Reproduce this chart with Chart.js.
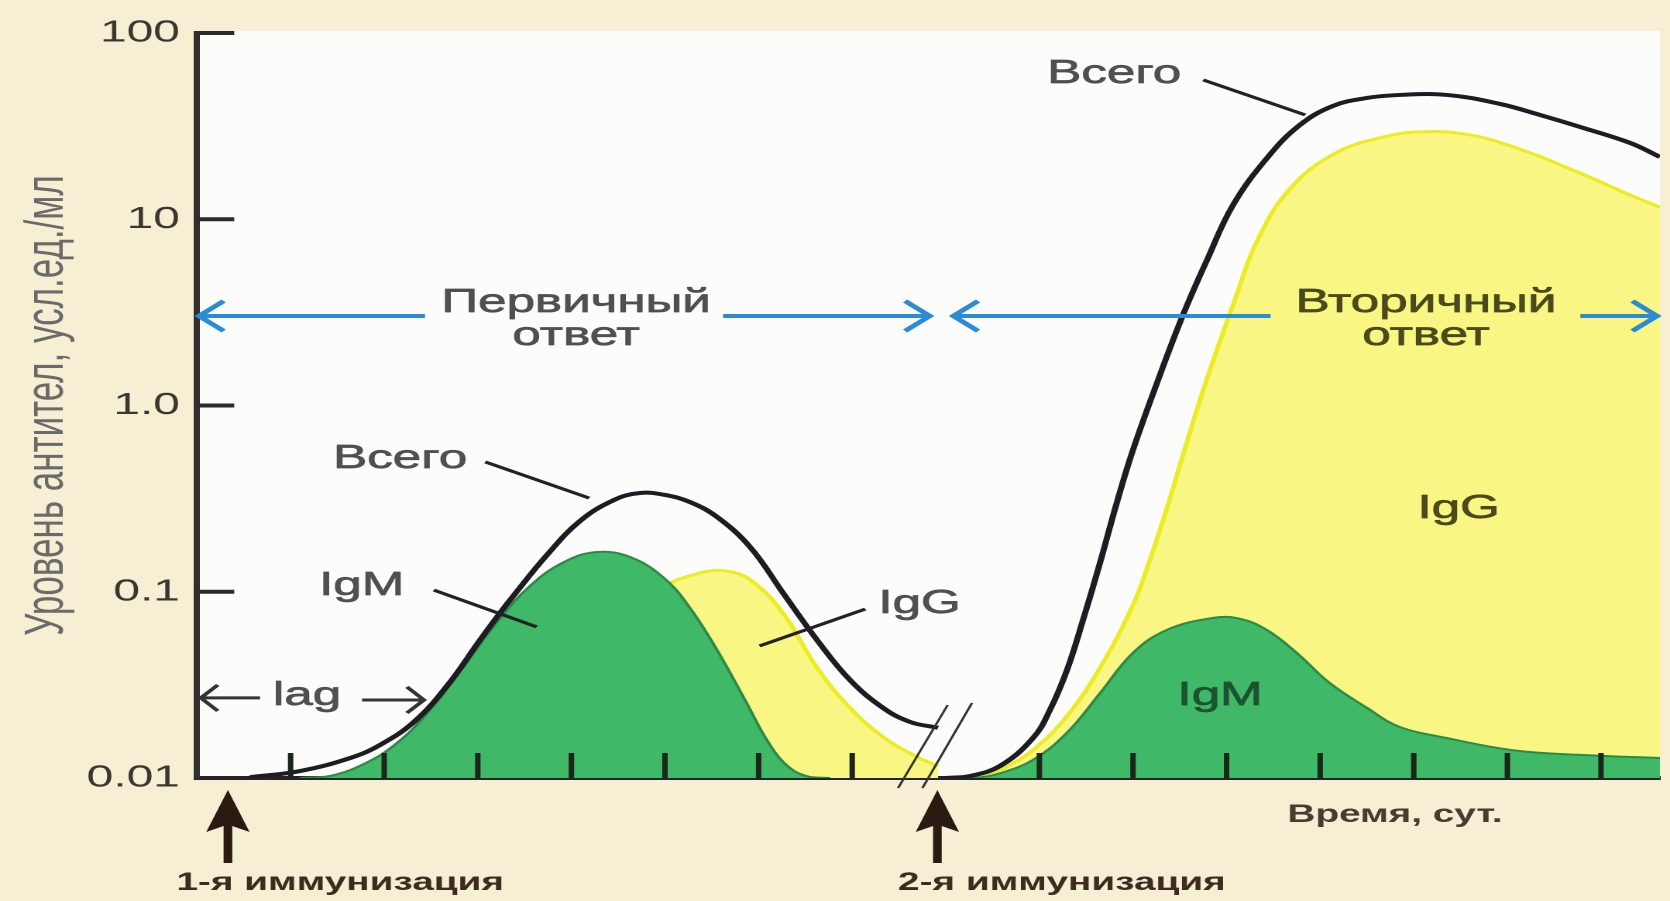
<!DOCTYPE html>
<html lang="ru">
<head>
<meta charset="utf-8">
<title>Первичный и вторичный иммунный ответ</title>
<script src="https://cdn.jsdelivr.net/npm/chart.js@4.4.1/dist/chart.umd.min.js"></script>
<style>
html,body{margin:0;padding:0;background:#f6efd3;overflow:hidden;width:1670px;height:901px;}
#wrap{position:absolute;left:0;top:0;width:1078px;height:901px;transform:scaleX(1.54917);transform-origin:0 0;}
canvas{display:block;}
</style>
</head>
<body>
<div id="wrap"><canvas id="c" width="1078" height="901"></canvas></div>
<script>
// ---------- data (x = days in tick units, y = antibody level) ----------
const totalDays  = [0.566,1.10,1.635,1.955,2.318,2.671,3.024,3.205,3.387,3.739,4.092,4.455,4.733,5.0,5.267,5.556,5.908,6.261,6.624,6.976,7.329,7.618,7.917, 7.96,
                    8.002,8.259,8.579,8.932,9.113,9.295,9.466,9.647,9.829,10.0,10.256,10.534,10.791,11.068,11.432,11.784,12.137,12.5,12.853,13.355,13.921,14.348,14.776,15.31,15.63];
const totalLevel = [0.0101,0.0109,0.0128,0.01504,0.0200,0.0312,0.0551,0.0732,0.0960,0.1575,0.2399,0.311,0.339,0.331,0.303,0.252,0.174,0.0985,0.0551,0.0336,0.0238,0.0200,0.0186, null,
                    0.01,0.01025,0.0116,0.0164,0.0232,0.0380,0.0705,0.1427,0.303,0.577,1.32,3.06,6.04,11.9,21.3,32.1,40.6,44.8,46.5,46.5,41.6,36.3,31.3,25.7,21.6];

const igmDays  = [1.10,1.421,1.784,2.137,2.489,2.853,3.205,3.558,3.921,4.274,4.626,4.989,5.267,5.556,5.855,6.122,6.335,6.549,6.763, 7.96,
                  8.02,8.37,8.58,8.93,9.29,9.65,10.0,10.36,10.85,11.14,11.43,11.75,12.10,12.50,12.85,13.35,14.06,14.78,15.63];
const igmLevel = [0.01,0.01025,0.0119,0.01541,0.0232,0.0399,0.0688,0.1074,0.1444,0.1635,0.1537,0.1185,0.0818,0.0487,0.0262,0.01504,0.01132,0.01012,0.01, null,
                  0.01,0.0101,0.0106,0.0125,0.0174,0.0286,0.0469,0.0623,0.0723,0.0717,0.0623,0.0469,0.0324,0.0238,0.0188,0.0164,0.0141,0.0133,0.0128];

const iggDays  = [3.24,3.88,4.51,4.94,5.37,5.66,5.91,6.26,6.62,6.97,7.33,7.69,7.92, 7.96,
                  8.02,8.365,8.579,8.932,9.295,9.647,10.0,10.18,10.363,10.534,10.716,10.897,11.068,11.357,11.731,12.212,12.671,13.034,13.536,14.071,14.776,15.31,15.63];
const iggLevel = [0.01,0.016,0.0551,0.102,0.126,0.129,0.116,0.0769,0.0394,0.0240,0.0166,0.0130,0.0116, null,
                  0.01,0.01025,0.01104,0.01413,0.0215,0.0390,0.0849,0.148,0.2817,0.542,1.07,1.99,3.46,8.23,15.6,23.3,27.6,29.4,28.7,24.4,17.7,13.5,11.6];

const xTickDays   = [1,2,3,4,5,6,7,9,10,11,12,13,14,15];
const yTickValues = [0.01,0.1,1,10,100];
const yTickLabels = ['0.01','0.1','1.0','10','100'];
const xMin = 0, xMax = 15.63;

// ---------- annotations (positions in data units: day, log10(level)) ----------
const FONT = '"Liberation Sans", Arial, sans-serif';
const GRAY = '#505050', OLIVE = '#4a4a1c', DGREEN = '#1c5430', BROWN = '#3d2b20';
const textNotes = [
  {t:'Всего',     x:9.80,  lg:1.732,  c:GRAY},
  {t:'Всего',     x:2.17,  lg:-0.336, c:GRAY},
  {t:'IgM',       x:1.76,  lg:-1.017, c:GRAY},
  {t:'IgG',       x:7.72,  lg:-1.114, c:GRAY},
  {t:'lag',       x:1.175, lg:-1.608, c:GRAY},
  {t:'Первичный', x:4.05,  lg:0.502,  c:GRAY},
  {t:'ответ',     x:4.05,  lg:0.325,  c:GRAY},
  {t:'Вторичный', x:13.13, lg:0.502,  c:OLIVE},
  {t:'ответ',     x:13.13, lg:0.325,  c:OLIVE},
  {t:'IgG',       x:13.48, lg:-0.604, c:OLIVE},
  {t:'IgM',       x:10.93, lg:-1.608, c:DGREEN}
];
const pointerLines = [
  [10.75, 1.748, 11.84, 1.560],
  [3.08, -0.303, 4.19, -0.497],
  [2.53, -0.991, 3.63, -1.189],
  [7.14, -1.093, 6.01, -1.291]
];
const blueArrows = [ // from -> tip
  [2.436, 0.02], [5.62, 7.83], [11.47, 8.08], [14.78, 15.60]
];
const blueLg = 0.4805;
const lagArrows = [[0.673, 0.04, -1.570], [1.763, 2.425, -1.581]];
const breakMarks = [[7.49, -2.054, 8.02, -1.608], [7.75, -2.054, 8.28, -1.597]];
const immunizations = [{x:0.33, label:'1-я иммунизация', lx:1.53}, {x:7.91, label:'2-я иммунизация', lx:9.24}];
const timeLabel = {t:'Время, сут.', x:12.80};

function pts(xs, ys){ return xs.map((x,i)=>({x:x, y:ys[i]})); }

function chevron(ctx, tx, ty, dir, len, half){
  ctx.beginPath();
  ctx.moveTo(tx - dir*len, ty - half);
  ctx.lineTo(tx, ty);
  ctx.lineTo(tx - dir*len, ty + half);
  ctx.stroke();
}

const deco = {
  id:'deco',
  beforeDraw(chart){
    const {ctx, chartArea:a} = chart;
    ctx.save();
    ctx.fillStyle = '#f6efd3';
    ctx.fillRect(0,0,chart.width,chart.height);
    ctx.fillStyle = '#fcfcfa';
    ctx.fillRect(a.left, a.top-2, a.right-a.left, a.bottom-a.top+2);
    ctx.restore();
  },
  afterDraw(chart){
    const {ctx, chartArea:a} = chart;
    const xs = chart.scales.x, ys = chart.scales.y;
    const X = v => xs.getPixelForValue(v);
    const Y = lg => ys.getPixelForValue(Math.pow(10, lg));
    ctx.save();
    ctx.lineCap = 'butt';
    // inner y ticks
    ctx.strokeStyle = '#2e2a2a'; ctx.lineWidth = 4;
    yTickValues.slice(1).forEach(v=>{
      const y = ys.getPixelForValue(v);
      ctx.beginPath(); ctx.moveTo(a.left, y); ctx.lineTo(a.left+24, y); ctx.stroke();
    });
    // inner x ticks
    ctx.strokeStyle = '#1b261b'; ctx.lineWidth = 3.5;
    xTickDays.forEach(d=>{
      const x = X(d);
      ctx.beginPath(); ctx.moveTo(x, a.bottom); ctx.lineTo(x, a.bottom-25); ctx.stroke();
    });
    // break marks
    ctx.strokeStyle = '#333'; ctx.lineWidth = 1.6;
    breakMarks.forEach(b=>{
      ctx.beginPath(); ctx.moveTo(X(b[0]), Y(b[1])); ctx.lineTo(X(b[2]), Y(b[3])); ctx.stroke();
    });
    // pointer lines
    ctx.strokeStyle = '#222'; ctx.lineWidth = 3;
    pointerLines.forEach(p=>{
      ctx.beginPath(); ctx.moveTo(X(p[0]), Y(p[1])); ctx.lineTo(X(p[2]), Y(p[3])); ctx.stroke();
    });
    // lag arrows
    ctx.strokeStyle = '#333'; ctx.lineWidth = 3;
    lagArrows.forEach(l=>{
      const x0 = X(l[0]), x1 = X(l[1]), y = Y(l[2]);
      ctx.beginPath(); ctx.moveTo(x0, y); ctx.lineTo(x1, y); ctx.stroke();
      chevron(ctx, x1, y, x1 > x0 ? 1 : -1, 11, 13);
    });
    // blue arrows
    ctx.strokeStyle = '#2b8bd4'; ctx.lineWidth = 4;
    const by = Y(blueLg);
    blueArrows.forEach(b=>{
      const x0 = X(b[0]), x1 = X(b[1]);
      ctx.beginPath(); ctx.moveTo(x0, by); ctx.lineTo(x1, by); ctx.stroke();
      chevron(ctx, x1, by, x1 > x0 ? 1 : -1, 16, 15);
    });
    // text notes
    ctx.textAlign = 'center'; ctx.textBaseline = 'alphabetic';
    ctx.font = '400 33px ' + FONT;
    ctx.lineWidth = 0.7; ctx.lineJoin = 'round';
    textNotes.forEach(n=>{
      ctx.fillStyle = n.c; ctx.strokeStyle = n.c;
      ctx.fillText(n.t, X(n.x), Y(n.lg));
      ctx.strokeText(n.t, X(n.x), Y(n.lg));
    });
    // immunization arrows and labels
    const b = a.bottom;
    immunizations.forEach(im=>{
      const x = X(im.x);
      ctx.fillStyle = '#2a1a12';
      ctx.beginPath();
      ctx.moveTo(x, b+12);
      ctx.lineTo(x+14, b+54);
      ctx.lineTo(x+2.8, b+48);
      ctx.lineTo(x+2.8, b+85);
      ctx.lineTo(x-2.8, b+85);
      ctx.lineTo(x-2.8, b+48);
      ctx.lineTo(x-14, b+54);
      ctx.closePath();
      ctx.fill();
      ctx.fillStyle = BROWN;
      ctx.font = '700 25px ' + FONT;
      ctx.fillText(im.label, X(im.lx), b+112);
    });
    ctx.fillStyle = '#4a3a30';
    ctx.font = '700 25px ' + FONT;
    ctx.fillText(timeLabel.t, X(timeLabel.x), b+44);
    ctx.restore();
  }
};

new Chart(document.getElementById('c'), {
  type:'line',
  data:{ datasets:[
    {label:'Всего', data:pts(totalDays,totalLevel), borderColor:'#1c1c22', borderWidth:4, fill:false,
     pointRadius:0, tension:0.4, spanGaps:false},
    {label:'IgM', data:pts(igmDays,igmLevel), borderColor:'#2c8a49', borderWidth:2, backgroundColor:'#3fb868',
     fill:'start', pointRadius:0, tension:0.4, spanGaps:false},
    {label:'IgG', data:pts(iggDays,iggLevel), borderColor:'#ecec24', borderWidth:3, backgroundColor:'#faf683',
     fill:'start', pointRadius:0, tension:0.4, spanGaps:false}
  ]},
  options:{
    responsive:false, animation:false, devicePixelRatio:2,
    layout:{padding:{left:0, top:33, right:6.5, bottom:123}},
    plugins:{legend:{display:false}, tooltip:{enabled:false}},
    scales:{
      x:{type:'linear', min:xMin, max:xMax, z:1,
         grid:{display:false, drawTicks:false}, ticks:{display:false},
         border:{display:true, color:'#242424', width:4},
         afterFit(s){ s.height = 0; }},
      y:{type:'logarithmic', min:0.01, max:100, z:1,
         grid:{display:false, drawTicks:false},
         border:{display:true, color:'#332e2e', width:4},
         afterBuildTicks(s){ s.ticks = yTickValues.map(v=>({value:v})); },
         afterFit(s){ s.width = 127.17; },
         ticks:{autoSkip:false, padding:11, color:'#3c3630', font:{family:FONT, size:31},
                callback:(v,i)=>yTickLabels[i]},
         title:{display:true, text:'Уровень антител, усл.ед./мл', color:'#6a6a6a',
                font:{family:FONT, size:35}, padding:{top:10, bottom:0}}}
    }
  },
  plugins:[deco]
});
</script>
</body>
</html>
